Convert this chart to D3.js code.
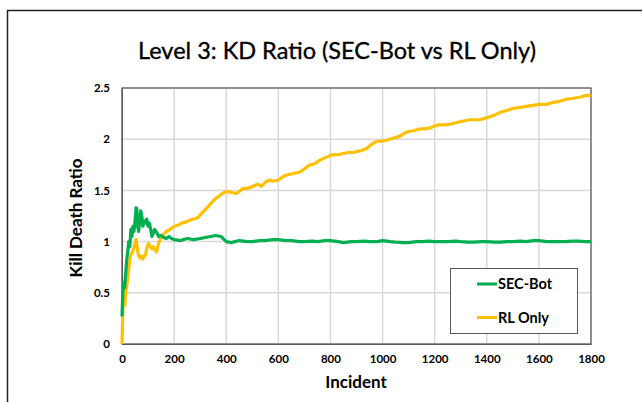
<!DOCTYPE html>
<html><head><meta charset="utf-8">
<script src="https://cdn.jsdelivr.net/npm/d3@7"></script>
<style>html,body{margin:0;padding:0;background:#fff;overflow:hidden}svg{display:block}text{font-family:Lato,"Open Sans",sans-serif}</style>
</head><body>
<script>
const chartTitle = "Level 3: KD Ratio (SEC-Bot vs RL Only)";
const xTitle = "Incident";
const yTitle = "Kill Death Ratio";
const seriesNames = ["SEC-Bot", "RL Only"];
const xTicks = [0,200,400,600,800,1000,1200,1400,1600,1800];
const yTicks = [0,0.5,1,1.5,2,2.5];

const secBotX = [0,3,6,10,14,18,22,26,30,34,38,42,46,50,54,57,60,64,68,72,76,80,85,90,95,100,105,110,115,120,125,130,135,140,150,160,170,180,190,200,225,250,275,300,320,340,360,380,400,420,450,480,500,530,550,580,600,630,650,680,700,730,750,780,800,830,850,880,900,930,950,980,1000,1030,1050,1080,1100,1130,1150,1180,1200,1230,1250,1280,1300,1330,1350,1380,1400,1430,1450,1480,1500,1530,1550,1580,1600,1630,1650,1680,1700,1730,1750,1780,1800];
const secBotY = [0.27,0.5,0.6,0.55,0.68,0.82,0.9,1.0,0.95,1.12,1.05,1.15,1.1,1.2,1.33,1.32,1.15,1.1,1.2,1.3,1.25,1.15,1.2,1.18,1.22,1.15,1.18,1.12,1.05,1.08,1.12,1.1,1.08,1.05,1.06,1.04,1.03,1.05,1.03,1.02,1.01,1.03,1.02,1.03,1.04,1.05,1.06,1.05,1.0,0.99,1.01,1.0,1.0,1.01,1.01,1.02,1.02,1.01,1.01,1.0,1.0,1.005,1.0,1.01,1.01,1.0,0.99,1.0,1.0,1.005,1.0,1.0,1.01,1.0,0.995,0.99,0.99,1.0,1.0,1.005,1.0,1.0,1.0,1.005,1.0,0.995,0.995,1.0,1.0,0.995,0.995,1.0,1.0,1.005,1.0,1.01,1.01,1.0,1.0,1.0,1.0,1.005,1.005,1.0,1.0];

const rlOnlyX = [0,2,5,8,11,14,18,21,24,28,31,36,40,43,47,50,54,58,62,66,70,75,80,85,90,95,101,107,114,120,126,133,140,146,152,160,170,180,190,201,215,229,245,260,275,290,300,315,330,344,355,370,385,402,420,440,455,466,480,495,510,523,536,550,565,580,600,615,632,650,667,683,700,721,740,755,772,790,811,830,849,870,885,901,920,939,958,977,995,1016,1041,1067,1092,1115,1143,1160,1182,1200,1214,1240,1265,1280,1297,1315,1335,1355,1374,1400,1425,1450,1476,1500,1527,1550,1578,1600,1630,1655,1681,1705,1732,1755,1777,1790,1800];
const rlOnlyY = [0.0,0.2,0.53,0.45,0.38,0.5,0.56,0.62,0.69,0.78,0.85,0.88,0.9,0.92,0.95,0.98,1.02,0.95,0.88,0.85,0.84,0.86,0.83,0.85,0.87,0.93,0.98,0.96,0.93,0.95,0.92,0.9,0.98,1.02,1.06,1.07,1.1,1.11,1.13,1.15,1.16,1.18,1.19,1.21,1.22,1.23,1.26,1.3,1.34,1.38,1.41,1.44,1.47,1.49,1.48,1.47,1.5,1.52,1.52,1.53,1.55,1.56,1.54,1.58,1.6,1.59,1.6,1.63,1.65,1.66,1.67,1.68,1.71,1.75,1.76,1.79,1.81,1.83,1.85,1.85,1.86,1.87,1.87,1.88,1.89,1.91,1.95,1.98,1.98,1.99,2.01,2.03,2.07,2.08,2.1,2.1,2.11,2.13,2.14,2.14,2.15,2.16,2.17,2.18,2.19,2.19,2.19,2.21,2.23,2.26,2.28,2.3,2.31,2.32,2.33,2.34,2.34,2.36,2.37,2.39,2.4,2.41,2.425,2.43,2.415];

const colors = ["#00B050", "#FFC000"];

const W = 642, H = 402;
const svg = d3.select("body").append("svg").attr("width", W).attr("height", H);
svg.append("rect").attr("width", W).attr("height", H).attr("fill", "#fff");
svg.append("rect").attr("x", 7.5).attr("y", 10.5).attr("width", 700).attr("height", 500)
  .attr("fill", "none").attr("stroke", "#222").attr("stroke-width", 1.5);

const pL = 122, pR = 591, pT = 88, pB = 344;
const x = d3.scaleLinear().domain([0, 1800]).range([pL, pR]);
const y = d3.scaleLinear().domain([0, 2.5]).range([pB, pT]);

svg.append("g").selectAll("line").data(xTicks).join("line")
  .attr("x1", d => x(d)).attr("x2", d => x(d)).attr("y1", pT).attr("y2", pB)
  .attr("stroke", "#d9d9d9").attr("stroke-width", 1.5);
svg.append("g").selectAll("line").data(yTicks).join("line")
  .attr("x1", pL).attr("x2", pR).attr("y1", d => y(d)).attr("y2", d => y(d))
  .attr("stroke", "#d9d9d9").attr("stroke-width", 1.5);

svg.append("rect").attr("x", pL).attr("y", pT).attr("width", pR - pL).attr("height", pB - pT)
  .attr("fill", "none").attr("stroke", "#595959").attr("stroke-width", 1.2);

const xAxis = svg.append("g").attr("transform", `translate(0,${pB})`)
  .call(d3.axisBottom(x).tickValues(xTicks).tickSize(0).tickPadding(11).tickFormat(d3.format("d")));
xAxis.select(".domain").attr("stroke", "#595959");
xAxis.selectAll("text").attr("font-size", 11.5).attr("font-weight", "bold").attr("fill", "#000");

const yAxis = svg.append("g").attr("transform", `translate(${pL},0)`)
  .call(d3.axisLeft(y).tickValues(yTicks).tickSize(0).tickPadding(12).tickFormat(d => d));
yAxis.select(".domain").attr("stroke", "#595959");
yAxis.selectAll("text").attr("font-size", 11.5).attr("font-weight", "bold").attr("fill", "#000");

const line = d3.line().x(d => x(d[0])).y(d => y(d[1]));
const series = [d3.zip(secBotX, secBotY), d3.zip(rlOnlyX, rlOnlyY)];
[1, 0].forEach(i => {
  svg.append("path").datum(series[i]).attr("d", line)
    .attr("fill", "none").attr("stroke", colors[i]).attr("stroke-width", 3.2)
    .attr("stroke-linejoin", "round");
});

svg.append("text").attr("x", 337).attr("y", 59).attr("text-anchor", "middle")
  .attr("font-size", 23.5).attr("fill", "#000").attr("stroke", "#000").attr("stroke-width", 0.35)
  .text(chartTitle);
svg.append("text").attr("x", 356).attr("y", 388).attr("text-anchor", "middle")
  .attr("font-size", 17).attr("font-weight", "bold").attr("fill", "#000").text(xTitle);
svg.append("text").attr("transform", "translate(82,218) rotate(-90)").attr("text-anchor", "middle")
  .attr("font-size", 17).attr("font-weight", "bold").attr("fill", "#000").text(yTitle);

const lg = svg.append("g");
lg.append("rect").attr("x", 450.5).attr("y", 268.5).attr("width", 127).attr("height", 65)
  .attr("fill", "#fff").attr("stroke", "#595959").attr("stroke-width", 1);
seriesNames.forEach((n, i) => {
  const yy = 284 + i * 33.5;
  lg.append("line").attr("x1", 477).attr("x2", 497).attr("y1", yy).attr("y2", yy)
    .attr("stroke", colors[i]).attr("stroke-width", 3);
  lg.append("text").attr("x", 498).attr("y", yy + 5).attr("font-size", 14.5).attr("font-weight", "bold")
    .attr("fill", "#000").text(n);
});
</script>
</body></html>
